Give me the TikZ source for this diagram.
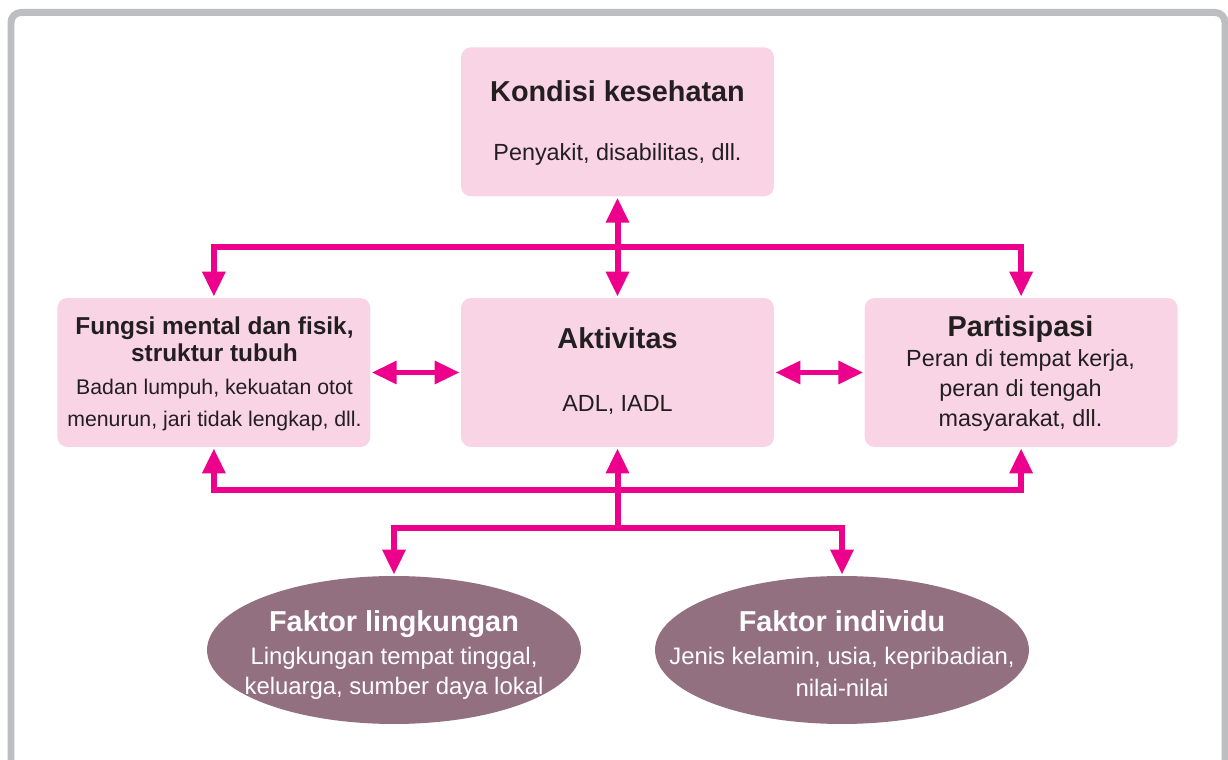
\documentclass[tikz,border=0pt]{standalone}
\usepackage{fontspec}
\setmainfont{Liberation Sans}
\usepackage{xcolor}
\usetikzlibrary{arrows.meta,positioning,shapes.geometric,calc}
\definecolor{icfpink}{HTML}{F9D4E5}
\definecolor{icfmagenta}{HTML}{EC008C}
\definecolor{icfmauve}{HTML}{93707F}
\definecolor{icfgray}{HTML}{BDBEC2}
\definecolor{icftext}{HTML}{231F20}

\begin{document}
\begin{tikzpicture}[x=0.02cm, y=-0.02cm, >={Triangle[width=0.44cm,length=0.5cm]},
  box/.style={fill=icfpink, rounded corners=0.2cm, minimum width=6.26cm, minimum height=2.98cm, inner sep=0pt},
  oval/.style={ellipse, fill=icfmauve, minimum width=7.48cm, minimum height=2.96cm, inner sep=0pt},
  link/.style={draw=icfmagenta, line width=0.12cm, shorten >=0.02cm, shorten <=0.02cm},
  ttl/.style={font=\fontsize{16.4}{19}\selectfont\bfseries, text=icftext, anchor=base, align=center, inner sep=0pt},
  txt/.style={font=\fontsize{13.3}{17}\selectfont, text=icftext, anchor=base, align=center, inner sep=0pt}]
\useasboundingbox (0,0) rectangle (1228,760);
\clip (0,0) rectangle (1228,760);
\draw[icfgray, line width=0.14cm, rounded corners=0.2cm] (11,12.5) rectangle (1225,840);
% boxes
\node[box] (aktivitas) at (617.5,372.5) {};
\node[box, above=2.02cm of aktivitas] (kondisi) {};
\node[box, left=1.8cm of aktivitas] (fungsi) {};
\node[box, right=1.8cm of aktivitas] (partisipasi) {};
\node[oval] (lingkungan) at (394,650) {};
\node[oval] (individu) at (842,650) {};
% texts (base = last line)
\node[ttl] (kondisiT) at (617.5,102) {Kondisi kesehatan};
\node[txt] (kondisiB) at (617.5,161) {Penyakit, disabilitas, dll.};
\node[ttl] (aktivitasT) at (617.5,349) {Aktivitas};
\node[txt] (aktivitasB) at (617.5,411.5) {ADL, IADL};
\node[ttl, font=\fontsize{13.9}{15.3}\selectfont\bfseries] (fungsiT) at (214.5,361) {Fungsi mental dan fisik,\\struktur tubuh};
\node[txt, font=\fontsize{12.1}{18.1}\selectfont] (fungsiB) at (214.5,426) {Badan lumpuh, kekuatan otot\\menurun, jari tidak lengkap, dll.};
\node[ttl] (partisipasiT) at (1020.5,337) {Partisipasi};
\node[txt] (partisipasiB) at (1020.5,426) {Peran di tempat kerja,\\peran di tengah\\masyarakat, dll.};
\node[ttl, text=white] (lingkunganT) at (394,631) {Faktor lingkungan};
\node[txt, text=white, font=\fontsize{13.6}{17}\selectfont] (lingkunganB) at (394,694) {Lingkungan tempat tinggal,\\keluarga, sumber daya lokal};
\node[ttl, text=white] (individuT) at (842,631) {Faktor individu};
\node[txt, text=white, font=\fontsize{13.6}{18}\selectfont] (individuB) at (842,696) {Jenis kelamin, usia, kepribadian,\\nilai-nilai};
% connectors
\coordinate (topmid) at ($(kondisi.south)!0.5!(aktivitas.north)$);
\coordinate (botmid) at (617.5,490);
\coordinate (hub) at (617.5,528);
\draw[link,<->] (kondisi.south) -- (aktivitas.north);
\draw[link,<->] (fungsi.north) |- (topmid) -| (partisipasi.north);
\draw[link,<->] (fungsi.east) -- (aktivitas.west);
\draw[link,<->] (aktivitas.east) -- (partisipasi.west);
\draw[link,<->] (fungsi.south) |- (botmid) -| (partisipasi.south);
\draw[link,->] (hub) -- (aktivitas.south);
\draw[link,<->] (lingkungan.north) |- (hub) -| (individu.north);
\end{tikzpicture}
\end{document}
